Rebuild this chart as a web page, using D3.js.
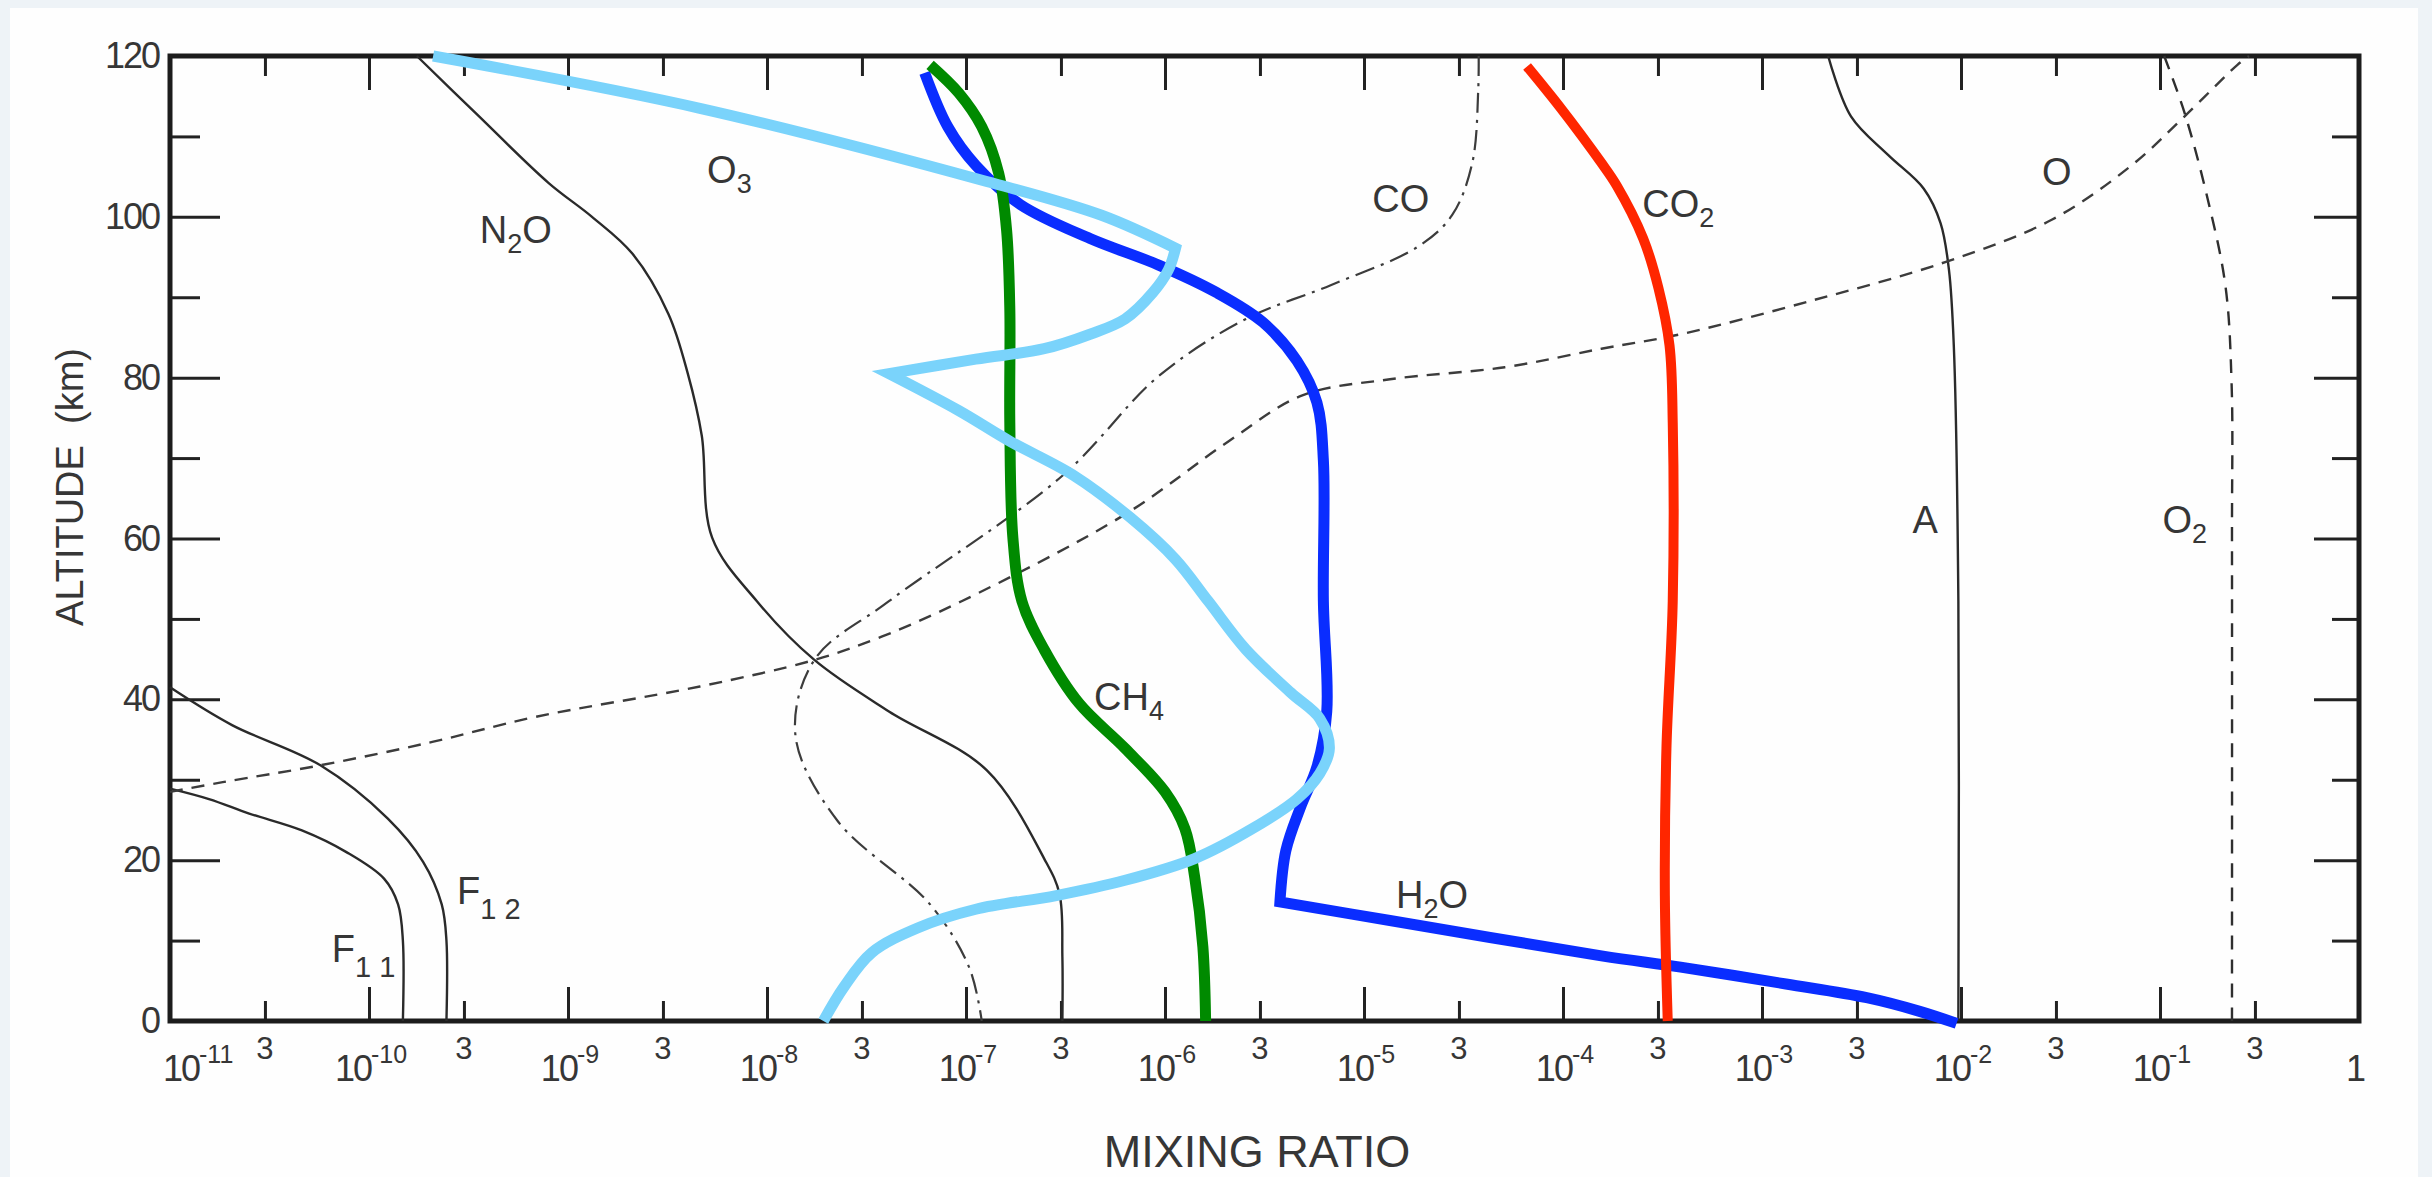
<!DOCTYPE html>
<html><head><meta charset="utf-8">
<script src="https://cdn.jsdelivr.net/npm/d3@7"></script>
<style>
html,body{margin:0;padding:0;background:#eef3f7;}
svg{display:block;}
text{font-family:"Liberation Sans", Arial, Helvetica, sans-serif; fill:#363636;}
</style></head><body>
<svg id="chart" width="2432" height="1177"></svg>
<script>
// ---- data: [mixing ratio, altitude (km)] ----
const n2o = [[1.74e-10,120],[3.5e-10,112.7],[8.0e-10,104.2],[1.32e-9,100],[2.11e-9,95.4],[3.2e-9,87.9],[4.0e-9,80.5],[4.7e-9,72.8],[5.3e-9,60.1],[8.9e-9,52.2],[1.73e-8,44.9],[4.1e-8,38.5],[1.27e-7,31.2],[2.47e-7,20.2],[2.95e-7,15.8],[3.05e-7,8],[3.05e-7,0]];
const f11 = [[1e-11,28.9],[1.57e-11,27.6],[2.5e-11,25.8],[4.6e-11,23.7],[7.7e-11,21.0],[1.19e-10,17.7],[1.40e-10,14.5],[1.48e-10,10],[1.48e-10,0]];
const f12 = [[1e-11,41.5],[2.05e-11,36.8],[5.7e-11,31.8],[1.24e-10,25.2],[1.87e-10,19.8],[2.32e-10,14.5],[2.45e-10,10],[2.45e-10,0]];
const argon = [[2.15e-3,120],[2.8e-3,112.5],[4.3e-3,107.7],[6.5e-3,103.5],[7.9e-3,99.2],[8.7e-3,93.4],[9.2e-3,84],[9.7e-3,52.2],[9.7e-3,0]];
const co = [[3.77e-5,120],[3.75e-5,115.8],[3.5e-5,106.7],[2.77e-5,100.2],[1.87e-5,96.3],[6.8e-6,91.5],[2.55e-6,87.3],[9.3e-7,80.2],[3.05e-7,67.8],[4.1e-8,52.2],[1.73e-8,44.9],[1.39e-8,35.5],[2.26e-8,24.9],[6.6e-8,14.5],[1.04e-7,6.6],[1.2e-7,0]];
const atomicO = [[1e-11,28.5],[1.84e-11,29.7],[5.7e-11,31.8],[2.08e-10,34.7],[6.8e-10,37.8],[4.6e-9,41.6],[1.73e-8,44.9],[3.6e-8,47.6],[9.5e-8,52.2],[6.3e-7,63.0],[2.09e-6,72.1],[4.9e-6,77.8],[1.35e-5,79.8],[5.1e-5,81.3],[1.56e-4,83.6],[3.9e-4,85.4],[1.79e-3,89.6],[8.4e-3,94.4],[2.84e-2,99.6],[7.2e-2,106.4],[0.133,112.5],[0.245,118.9],[0.28,120]];
const o2 = [[0.105,120],[0.133,112.9],[0.171,102.9],[0.213,91.5],[0.229,79.2],[0.23,60],[0.23,0]];
const h2oUpper = [[6.2e-8,117.9],[8.1e-8,111.2],[1.12e-7,106.4],[1.88e-7,101.5],[4.2e-7,97.3],[9.3e-7,94.0],[1.81e-6,90.6],[3.1e-6,86.9],[4.6e-6,82.1],[5.8e-6,76.9],[6.25e-6,69.7],[6.25e-6,52.2],[6.5e-6,38.5],[5.8e-6,31.6],[4.8e-6,26.6],[4.05e-6,21.2],[3.78e-6,14.8]];
const h2oLower = [[3.78e-6,14.8],[1.35e-5,12.5],[1.56e-4,8.1],[3.9e-4,6.7],[1.32e-3,4.6],[3.36e-3,2.9],[6.2e-3,1.2],[9.5e-3,-0.3]];
const ch4 = [[6.6e-8,118.9],[9.2e-8,115.4],[1.2e-7,111.2],[1.46e-7,105.4],[1.6e-7,98.3],[1.66e-7,88.6],[1.66e-7,74.4],[1.72e-7,60.1],[1.91e-7,52.2],[2.47e-7,46.2],[3.7e-7,39.5],[6.3e-7,33.9],[1.0e-6,28.5],[1.26e-6,23.9],[1.41e-6,17.9],[1.55e-6,9.2],[1.6e-6,0]];
const co2 = [[6.6e-5,118.7],[9.75e-5,113.5],[1.56e-4,106.7],[1.86e-4,103.9],[2.53e-4,97.3],[3.02e-4,91.1],[3.43e-4,84.0],[3.56e-4,74.4],[3.56e-4,52.2],[3.31e-4,33.9],[3.25e-4,15.6],[3.36e-4,0]];
const o3a = [[2.1e-10,120],[4.6e-9,113.5],[1.27e-7,104.4],[4.8e-7,100.2],[1.13e-6,96.1]];
const o3b = [[1.13e-6,96.1],[1.04e-6,93.4],[8.7e-7,90.6],[6.3e-7,87.3],[4.2e-7,85.4],[2.47e-7,83.6],[1.12e-7,82.3],[4.1e-8,80.5]];
const o3c = [[4.1e-8,80.5],[9.2e-8,75.9],[1.66e-7,72.1],[3.5e-7,67.8],[6.7e-7,62.6],[1.13e-6,57.4],[1.65e-6,52.2],[2.55e-6,46.2],[4.3e-6,40.8],[6.0e-6,37.6],[6.7e-6,33.9],[6.0e-6,30.8],[4.6e-6,27.6],[2.74e-6,23.9],[1.41e-6,20.2],[6.3e-7,17.5],[2.84e-7,15.6],[1.12e-7,13.9],[5.75e-8,11.6],[3.36e-8,8.5],[2.43e-8,4.2],[1.92e-8,0]];

// curve labels: [text parts, mixing ratio, altitude]
const curveLabels = [
  [[["O"],["3",1]], 5.0e-9, 104.2],
  [[["N"],["2",1],["O"]], 3.6e-10, 96.7],
  [[["CO"]], 1.1e-5, 100.6],
  [[["CO"],["2",1]], 2.5e-4, 100.0],
  [[["O"]], 2.55e-2, 103.9],
  [[["A"]], 5.7e-3, 60.7],
  [[["O"],["2",1]], 0.103, 60.7],
  [[["CH"],["4",1]], 4.4e-7, 38.7],
  [[["H"],["2",1],["O"]], 1.45e-5, 14.1],
  [[["F"],["1 2",2]], 2.77e-10, 14.5],
  [[["F"],["1 1",2]], 6.5e-11, 7.3]
];

// axis ticks
const decadeExp = [-11,-10,-9,-8,-7,-6,-5,-4,-3,-2,-1,0];
const threeExp = [-11,-10,-9,-8,-7,-6,-5,-4,-3,-2,-1];
const yMajor = [0,20,40,60,80,100,120];
const yMinor = [10,30,50,70,90,110];

// ---- chart ----
const M = {left:170, right:2359, top:56, bottom:1021};
const x = d3.scaleLog().domain([1e-11, 1]).range([M.left, M.right]);
const y = d3.scaleLinear().domain([0, 120]).range([M.bottom, M.top]);
const svg = d3.select("#chart");
svg.append("rect").attr("x",10).attr("y",8).attr("width",2408).attr("height",1169).attr("fill","#fefefe");

const decades = decadeExp.map(e => Math.pow(10, e));
const threes = threeExp.map(e => 3 * Math.pow(10, e));

function tickAxis(axis, vals, size, tx, ty) {
  const g = svg.append("g").attr("transform", `translate(${tx},${ty})`)
    .call(axis.tickValues(vals).tickSizeInner(-size).tickSizeOuter(0).tickFormat(""));
  g.select(".domain").remove();
  g.selectAll(".tick line").attr("stroke", "#222").attr("stroke-width", 3);
  return g;
}
tickAxis(d3.axisBottom(x), decades, 34, 0, M.bottom);
tickAxis(d3.axisBottom(x), threes, 20, 0, M.bottom);
tickAxis(d3.axisTop(x), decades, 34, 0, M.top);
tickAxis(d3.axisTop(x), threes, 20, 0, M.top);
tickAxis(d3.axisRight(y), yMajor, 45, M.right, 0);
tickAxis(d3.axisRight(y), yMinor, 27, M.right, 0);
tickAxis(d3.axisLeft(y), yMinor, 30, M.left, 0);
const gl = svg.append("g").attr("transform", `translate(${M.left},0)`)
  .call(d3.axisLeft(y).tickValues(yMajor).tickSizeInner(-50).tickSizeOuter(0).tickPadding(11).tickFormat(d3.format("d")));
gl.select(".domain").remove();
gl.selectAll(".tick line").attr("stroke", "#222").attr("stroke-width", 3);
gl.selectAll(".tick text").attr("font-size", 36).attr("fill", "#363636")
  .attr("font-family", '"Liberation Sans", Arial, sans-serif').attr("letter-spacing", -2);

// x tick labels
const xl = svg.append("g");
decadeExp.forEach((e, i) => {
  const v = Math.pow(10, e);
  if (e === 0) {
    xl.append("text").attr("x", x(v) - 3).attr("y", 1081).attr("text-anchor", "middle")
      .attr("font-size", 36).text("1");
    return;
  }
  const t = xl.append("text").attr("y", 1081).attr("font-size", 36);
  if (i === 0) t.attr("x", x(v) - 7).attr("text-anchor", "start");
  else t.attr("x", x(v) + 2).attr("text-anchor", "middle");
  t.append("tspan").attr("letter-spacing", -2).text("10");
  t.append("tspan").attr("font-size", 25).attr("dy", -18).text(String(e));
});
threes.forEach(v => {
  xl.append("text").attr("x", x(v)).attr("y", 1059).attr("text-anchor", "middle")
    .attr("font-size", 31).text("3");
});

// frame
svg.append("rect").attr("x", M.left).attr("y", M.top)
  .attr("width", M.right - M.left).attr("height", M.bottom - M.top)
  .attr("fill", "none").attr("stroke", "#1c1c1c").attr("stroke-width", 5);

// axis titles
svg.append("text").attr("x", 1257).attr("y", 1167).attr("text-anchor", "middle")
  .attr("font-size", 45).text("MIXING RATIO");
svg.append("text").attr("transform", "translate(83,487) rotate(-90)").attr("text-anchor", "middle")
  .attr("font-size", 38).text("ALTITUDE\u00A0\u00A0(km)");

// curves
const line = d3.line().x(d => x(d[0])).y(d => y(d[1])).curve(d3.curveCatmullRom.alpha(0.5));
function pathFor(segs) {
  return segs.map((s, i) => { const d = line(s); return i === 0 ? d : d.replace(/^M[^A-Za-z]*/, ""); }).join("");
}
const thin = "#2a2a2a";
const series = [
  {segs:[n2o], color:thin, w:2.4},
  {segs:[f11], color:thin, w:2.4},
  {segs:[f12], color:thin, w:2.4},
  {segs:[argon], color:thin, w:2.4},
  {segs:[co], color:"#3c3c3c", w:2.2, dash:"20,7,3,7"},
  {segs:[atomicO], color:"#3c3c3c", w:2.4, dash:"13,9"},
  {segs:[o2], color:"#2f2f2f", w:2.4, dash:"14,10"},
  {segs:[h2oUpper, h2oLower], color:"#0a2dff", w:11},
  {segs:[ch4], color:"#008a00", w:11},
  {segs:[co2], color:"#ff2600", w:10},
  {segs:[o3a, o3b, o3c], color:"#7ad3fb", w:11}
];
svg.append("g").selectAll("path").data(series).join("path")
  .attr("d", s => pathFor(s.segs))
  .attr("fill", "none")
  .attr("stroke", s => s.color)
  .attr("stroke-width", s => s.w)
  .attr("stroke-dasharray", s => s.dash || null)
  .attr("stroke-linejoin", "miter").attr("stroke-miterlimit", 12)
  .attr("stroke-linecap", "butt");

// curve labels
const lg = svg.append("g");
curveLabels.forEach(([parts, v, h]) => {
  const t = lg.append("text").attr("x", x(v)).attr("y", y(h)).attr("font-size", 38);
  let shifted = 0;
  parts.forEach(([s, sub]) => {
    const ts = t.append("tspan").text(s);
    if (sub) {
      const dy = sub === 2 ? 15 : 10;
      ts.attr("font-size", sub === 2 ? 29 : 27).attr("dy", dy - shifted);
      shifted = dy;
    } else if (shifted) {
      ts.attr("dy", -shifted); shifted = 0;
    }
  });
});
</script>
</body></html>
